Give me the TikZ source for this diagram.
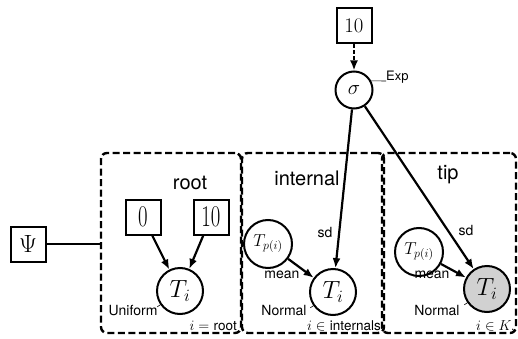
\documentclass[tikz,border=0pt]{standalone}
\usepackage{fontspec}
\setsansfont{TeX Gyre Heros}
\usetikzlibrary{arrows.meta}
\begin{document}
\begin{tikzpicture}[x=1pt,y=-1pt,
  lab/.style={font=\sffamily\fontsize{14}{14}\selectfont, inner sep=0},
  big/.style={font=\sffamily\fontsize{20}{20}\selectfont, inner sep=0},
  plate/.style={draw, line width=2.4pt, dash pattern=on 7pt off 3.5pt, rounded corners=6pt, inner sep=0},
  constbox/.style={draw, line width=2pt, minimum size=35pt, inner sep=0, font=\fontsize{20}{20}\selectfont},
  rv/.style={draw, circle, line width=2pt, minimum size=46pt, inner sep=0, font=\fontsize{26}{26}\selectfont},
  par/.style={draw, circle, line width=2pt, minimum size=48pt, inner sep=0, font=\fontsize{18}{18}\selectfont},
  edge/.style={line width=2.2pt, -{Latex[length=10pt,width=8pt]}},
  tick/.style={line width=0.6pt},
  idx/.style={inner sep=0, anchor=base east, font=\fontsize{13.5}{13.5}\selectfont}
]
\useasboundingbox (0,0) rectangle (518,339);
% plates
\node[plate, minimum width=140pt, minimum height=180pt] (rootp) at (171,243) {};
\node[plate, minimum width=142pt, minimum height=180pt] (intp) at (313,243) {};
\node[plate, minimum width=134pt, minimum height=180pt] (tipp) at (449,243) {};
\node[big] (rootl) at (190,183) {root};
\node[big] (intl) at (307,178) {internal};
\node[big] (tipl) at (448,175) {tip};
% top
\node[constbox] (ten) at (354,26) {$10$};
\node[circle, draw, line width=2pt, minimum size=37pt, inner sep=0, font=\fontsize{20}{20}\selectfont] (sigma) at (354,90) {$\sigma$};
\node[lab, anchor=west, font=\sffamily\fontsize{13}{13}\selectfont] (exp) at (386,77) {Exp};
\draw[tick] (sigma.28) -- (exp.west |- 0,81);
% psi
\node[constbox, font=\fontsize{28}{28}\selectfont] (psi) at (28,244) {$\Psi$};
\draw[line width=2.2pt] (psi) -- (psi -| rootp.west);
% root
\node[constbox, font=\fontsize{21}{21}\selectfont] (zero) at (143,217) {\scalebox{1}[1.45]{$0$}};
\node[constbox, font=\fontsize{21}{21}\selectfont] (tenb) at (211,217) {\scalebox{1}[1.45]{$10$}};
\node[rv] (troot) at (180,291) {$T_i$};
\node[lab] (unif) at (133,310) {Uniform};
\node[idx] (rootidx) at (237,330) {$i=$ \textsf{root}};
\draw[edge] (zero) -- (troot);
\draw[edge] (tenb) -- (troot);
% internal
\node[par] (tpi) at (268,244) {$T_{p(i)}$};
\node[rv] (tint) at (333,292) {$T_i$};
\node[lab] (sd1) at (325,232) {sd};
\node[lab] (mean1) at (282,275) {mean};
\node[lab] (norm1) at (284,310) {Normal};
\node[idx] (intidx) at (381,330) {$i\in$ \textsf{internals}};
\draw[edge] (tpi) -- (tint);
% tip
\node[par] (tpt) at (419,252) {$T_{p(i)}$};
\node[rv, fill=black!18] (ttip) at (487,289) {$T_i$};
\node[lab] (sd2) at (466,231) {sd};
\node[lab] (mean2) at (432,275) {mean};
\node[lab] (norm2) at (437,310) {Normal};
\node[idx] (tipidx) at (515,330) {$i\in K,$};
\draw[edge] (tpt) -- (ttip);
% sigma edges
\draw[edge, dash pattern=on 4pt off 2pt] (ten) -- (sigma);
\draw[edge] (sigma) -- (tint);
\draw[edge] (sigma) -- (ttip);
% ticks
\draw[tick] (troot.215) -- ++(-3,2);
\draw[tick] (tint.215) -- ++(-3,2);
\draw[tick] (ttip.215) -- ++(-3,2);
\end{tikzpicture}
\end{document}
